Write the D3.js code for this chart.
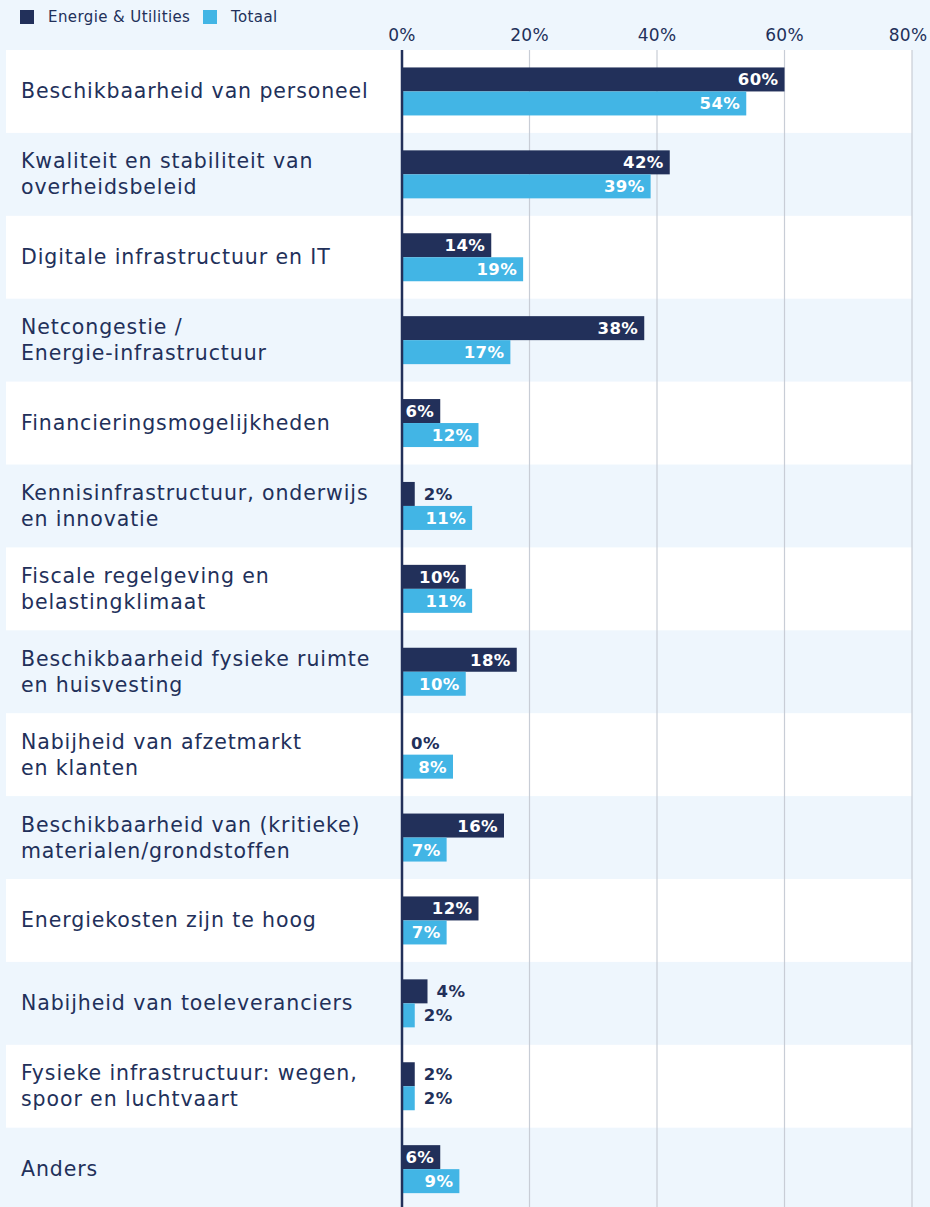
<!DOCTYPE html>
<html><head><meta charset="utf-8">
<script src="https://cdn.jsdelivr.net/npm/d3@7"></script>
<style>html,body{margin:0;padding:0;background:#EEF6FD;}svg{display:block;}</style>
</head><body>
<script>
const categories = [
  ["Beschikbaarheid van personeel"],
  ["Kwaliteit en stabiliteit van","overheidsbeleid"],
  ["Digitale infrastructuur en IT"],
  ["Netcongestie /","Energie-infrastructuur"],
  ["Financieringsmogelijkheden"],
  ["Kennisinfrastructuur, onderwijs","en innovatie"],
  ["Fiscale regelgeving en","belastingklimaat"],
  ["Beschikbaarheid fysieke ruimte","en huisvesting"],
  ["Nabijheid van afzetmarkt","en klanten"],
  ["Beschikbaarheid van (kritieke)","materialen/grondstoffen"],
  ["Energiekosten zijn te hoog"],
  ["Nabijheid van toeleveranciers"],
  ["Fysieke infrastructuur: wegen,","spoor en luchtvaart"],
  ["Anders"]
];
const seriesNames = ["Energie & Utilities","Totaal"];
const energieUtilities = [60,42,14,38,6,2,10,18,0,16,12,4,2,6];
const totaal = [54,39,19,17,12,11,11,10,8,7,7,2,2,9];
const tickValues = [0,20,40,60,80];

const W = 930, H = 1207;
const navy = "#22305A", light = "#42B5E5", bg = "#EEF6FD", grid = "#C8CDD6";
const font = "'DejaVu Sans', sans-serif";

const svg = d3.select("body").append("svg").attr("width", W).attr("height", H);
svg.append("rect").attr("width", W).attr("height", H).attr("fill", bg);

const x = d3.scaleLinear().domain([0, 80]).range([402, 912]);
const idx = d3.range(categories.length);
const y = d3.scaleBand().domain(idx).range([50, 50 + 82.9 * categories.length]).padding(0);
const sub = d3.scaleBand().domain([0, 1]).range([0, 48]);

// row backgrounds
svg.append("g").selectAll("rect").data(idx.filter(i => i % 2 === 0)).join("rect")
  .attr("x", 6).attr("width", 912 - 6)
  .attr("y", i => y(i)).attr("height", y.bandwidth())
  .attr("fill", "#FFFFFF");

// gridlines
svg.append("g").selectAll("line").data(tickValues.filter(t => t > 0)).join("line")
  .attr("x1", d => x(d)).attr("x2", d => x(d))
  .attr("y1", 50).attr("y2", H)
  .attr("stroke", grid).attr("stroke-width", 1.2);

// tick labels
svg.append("g").selectAll("text").data(tickValues).join("text")
  .attr("x", d => Math.min(x(d), W - 22)).attr("y", 41)
  .attr("text-anchor", "middle")
  .attr("font-family", font).attr("font-size", 17)
  .attr("letter-spacing", 0.3)
  .attr("fill", navy)
  .text(d => d + "%");

// category labels
const lab = svg.append("g").selectAll("text").data(idx).join("text")
  .attr("font-family", font).attr("font-size", 20.5)
  .attr("letter-spacing", 0.9).attr("fill", navy);
lab.each(function(i) {
  const lines = categories[i];
  const cy = y(i) + y.bandwidth() / 2;
  const lh = 26;
  const t = d3.select(this);
  lines.forEach((ln, k) => {
    t.append("tspan").attr("x", 21)
      .attr("y", cy + (k - (lines.length - 1) / 2) * lh + 7)
      .text(ln);
  });
});

// bars
const series = [energieUtilities, totaal];
const colors = [navy, light];
series.forEach((vals, s) => {
  const g = svg.append("g");
  g.selectAll("rect").data(idx).join("rect")
    .attr("x", x(0)).attr("width", i => x(vals[i]) - x(0))
    .attr("y", i => y(i) + y.bandwidth() / 2 - 24 + sub(s))
    .attr("height", sub.bandwidth())
    .attr("fill", colors[s]);
  g.selectAll("text").data(idx).join("text")
    .attr("font-family", font).attr("font-size", 16.5).attr("font-weight", "bold")
    .attr("letter-spacing", 0.4)
    .attr("y", i => y(i) + y.bandwidth() / 2 - 24 + sub(s) + sub.bandwidth() / 2 + 6)
    .attr("x", i => vals[i] >= 5 ? x(vals[i]) - 6 : x(vals[i]) + 9)
    .attr("text-anchor", i => vals[i] >= 5 ? "end" : "start")
    .attr("fill", i => vals[i] >= 5 ? "#FFFFFF" : navy)
    .text(i => vals[i] + "%");
});

// zero axis
svg.append("line").attr("x1", x(0)).attr("x2", x(0)).attr("y1", 50).attr("y2", H)
  .attr("stroke", navy).attr("stroke-width", 2.5);

// legend
const leg = svg.append("g");
const legX = [20, 203];
seriesNames.forEach((n, s) => {
  leg.append("rect").attr("x", legX[s]).attr("y", 10).attr("width", 14).attr("height", 14).attr("fill", colors[s]);
  leg.append("text").attr("x", legX[s] + 28).attr("y", 22)
    .attr("font-family", font).attr("font-size", 15).attr("letter-spacing", 0.4)
    .attr("fill", navy).text(n);
});
</script>
</body></html>
